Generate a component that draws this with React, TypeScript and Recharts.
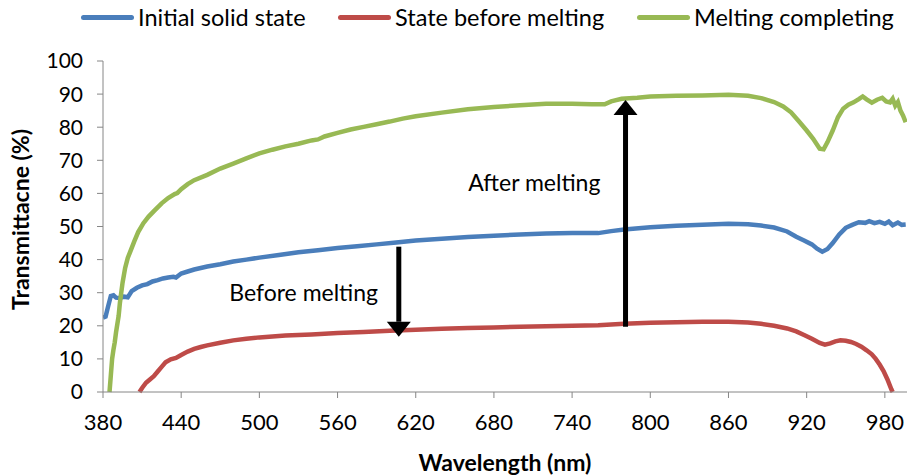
import { LineChart, Line, XAxis, YAxis, ReferenceLine, ReferenceDot, Label } from "recharts";

// [wavelength nm, transmittance %]
const initialSolid: [number, number][] = [
  [380, 22.5], [382, 22.8], [384, 26], [386, 29], [388, 29.2], [390, 28.5], [393, 28.4], [396, 28.8],
  [399, 28.6], [402, 30.5], [406, 31.5], [410, 32.2], [414, 32.6], [418, 33.4], [422, 33.8], [426, 34.3],
  [430, 34.6], [434, 34.8], [436, 34.6], [440, 35.8], [445, 36.4], [450, 37], [460, 37.9], [470, 38.6],
  [480, 39.4], [490, 40], [500, 40.6], [515, 41.4], [530, 42.2], [545, 42.8], [560, 43.5], [575, 44],
  [590, 44.6], [605, 45.2], [620, 45.8], [640, 46.3], [660, 46.8], [680, 47.2], [700, 47.6], [720, 47.9],
  [740, 48], [760, 48], [770, 48.6], [780, 49.1], [800, 49.8], [820, 50.2], [840, 50.5], [860, 50.8],
  [875, 50.7], [885, 50.3], [895, 49.7], [905, 48.5], [912, 46.9], [918, 45.8], [924, 44.6], [928, 43.3],
  [932, 42.4], [936, 43.2], [940, 45], [945, 47.6], [950, 49.6], [955, 50.5], [960, 51.3], [965, 51.1],
  [968, 51.6], [972, 51.0], [976, 51.4], [980, 50.8], [983, 51.5], [986, 50.4], [990, 51.2], [993, 50.5],
  [996, 50.6],
];

const beforeMelting: [number, number][] = [
  [408, 0], [410, 1.2], [413, 2.8], [416, 3.8], [419, 4.8], [422, 6.2], [425, 7.6], [428, 9], [432, 9.9],
  [436, 10.3], [440, 11.2], [445, 12.2], [450, 13], [455, 13.6], [460, 14.1], [470, 14.9], [480, 15.6],
  [490, 16.1], [500, 16.5], [520, 17.1], [540, 17.4], [560, 17.8], [580, 18.1], [600, 18.5], [620, 18.8],
  [640, 19.1], [660, 19.3], [680, 19.5], [700, 19.7], [720, 19.9], [740, 20], [760, 20.2], [780, 20.6],
  [800, 20.9], [820, 21.1], [840, 21.2], [860, 21.2], [875, 21], [885, 20.6], [895, 20], [905, 19.2],
  [912, 18.3], [918, 17.2], [924, 16.1], [930, 14.8], [934, 14.3], [938, 14.7], [942, 15.3], [946, 15.6],
  [950, 15.5], [954, 15.1], [958, 14.5], [962, 13.7], [966, 12.6], [970, 11.4], [973, 10], [976, 8.3],
  [979, 6.3], [982, 3.8], [985, 0.8], [986, 0],
];

const meltingCompleting: [number, number][] = [
  [385, 0], [386, 5], [387, 10], [388, 12.7], [389, 15], [390, 18], [392, 23], [393, 27], [395, 33],
  [397, 37.5], [399, 40.5], [401, 42.5], [404, 45.5], [407, 48.3], [411, 51], [415, 53], [420, 55], [425, 57],
  [430, 58.6], [435, 59.8], [437, 60.1], [440, 61.3], [445, 62.8], [450, 64], [460, 65.6], [470, 67.5],
  [480, 69], [490, 70.6], [500, 72.1], [510, 73.2], [520, 74.2], [530, 75], [540, 76], [545, 76.3],
  [550, 77.2], [560, 78.3], [570, 79.3], [580, 80.1], [590, 80.9], [600, 81.7], [610, 82.6], [620, 83.3],
  [640, 84.4], [660, 85.4], [680, 86.1], [700, 86.6], [720, 87.1], [740, 87.1], [755, 86.9], [765, 86.9],
  [770, 87.8], [778, 88.6], [790, 88.9], [800, 89.3], [820, 89.5], [840, 89.6], [860, 89.8], [875, 89.5],
  [885, 88.8], [895, 87.6], [902, 86.3], [908, 84.5], [914, 81.8], [920, 79], [925, 76.5], [930, 73.5],
  [933, 73.3], [936, 75.5], [940, 79], [944, 83], [948, 85.6], [952, 86.8], [956, 87.5], [960, 88.5],
  [963, 89.3], [966, 88.4], [970, 87.4], [974, 88.3], [978, 88.9], [981, 87.8], [984, 87.5], [986, 88.6],
  [988, 86.5], [990, 87.6], [992, 85], [994, 83.5], [996, 81.5],
];

const seriesNames = ["Initial solid state", "State before melting", "Melting completing"];
const seriesColors = ["#4a7ebb", "#be4b48", "#98b954"];
const xTicks = [380, 440, 500, 560, 620, 680, 740, 800, 860, 920, 980];
const yTicks = [0, 10, 20, 30, 40, 50, 60, 70, 80, 90, 100];

// arrows: [wavelength, from %, to %]
const arrowBefore = [607, 43.9, 16.7];
const arrowAfter = [781, 19.7, 88.2];
const notes: { text: string; x: number; y: number }[] = [
  { text: "Before melting", x: 534, y: 30.2 },
  { text: "After melting", x: 711, y: 63.5 },
];

const toRows = (pts: [number, number][]) => pts.map(([wl, t]) => ({ wl, t }));
const FONT = "Lato, 'Open Sans', sans-serif";

function Arrow(props: any) {
  const { x1, y1, x2, y2 } = props;
  const dir = y2 > y1 ? 1 : -1;
  const head = 15;
  const half = 12;
  return (
    <g>
      <line x1={x1} y1={y1} x2={x2} y2={y2 - dir * head} stroke="#000" strokeWidth={5} />
      <polygon
        points={`${x2},${y2} ${x2 - half},${y2 - dir * head} ${x2 + half},${y2 - dir * head}`}
        fill="#000"
      />
    </g>
  );
}

export default function App() {
  const all = [initialSolid, beforeMelting, meltingCompleting];
  const legendLeft = [81, 338, 637];
  return (
    <div style={{ position: "absolute", left: 0, top: 0, width: 908, height: 476, background: "#fff" }}>
      <LineChart width={908} height={476} margin={{ top: 61, right: 1, left: 0, bottom: 0 }}>
        <XAxis
          dataKey="wl"
          type="number"
          domain={[380, 997]}
          ticks={xTicks}
          allowDataOverflow
          height={84}
          stroke="#868686"
          tickSize={6}
          tickMargin={16}
          tick={{ fill: "#000", fontSize: 22, fontFamily: FONT }}
        >
          <Label
            content={(p: any) => {
              const vb = p.viewBox;
              return (
                <text
                  x={vb.x + vb.width / 2}
                  y={462}
                  textAnchor="middle"
                  dominantBaseline="central"
                  fontFamily={FONT}
                  fontWeight="bold"
                  fontSize={23}
                  fill="#000"
                >
                  Wavelength (nm)
                </text>
              );
            }}
          />
        </XAxis>
        <YAxis
          type="number"
          domain={[0, 100]}
          ticks={yTicks}
          width={103}
          stroke="#868686"
          tickSize={6}
          tickMargin={14}
          interval={0}
          tick={{ fill: "#000", fontSize: 21, fontFamily: FONT }}
        >
          <Label
            content={(p: any) => {
              const vb = p.viewBox;
              return (
                <text
                  transform={`translate(20, ${vb.y + vb.height / 2 - 7}) rotate(-90)`}
                  textAnchor="middle"
                  dominantBaseline="central"
                  fontFamily={FONT}
                  fontWeight="bold"
                  fontSize={23}
                  fill="#000"
                >
                  Transmittacne (%)
                </text>
              );
            }}
          />
        </YAxis>
        {all.map((pts, i) => (
          <Line
            key={seriesNames[i]}
            data={toRows(pts)}
            dataKey="t"
            name={seriesNames[i]}
            type="linear"
            stroke={seriesColors[i]}
            strokeWidth={4.5}
            dot={false}
            isAnimationActive={false}
          />
        ))}
        {[arrowBefore, arrowAfter].map((a, i) => (
          <ReferenceLine
            key={i}
            segment={[
              { x: a[0], y: a[1] },
              { x: a[0], y: a[2] },
            ]}
            ifOverflow="visible"
            shape={Arrow}
          />
        ))}
        {notes.map((n) => (
          <ReferenceDot
            key={n.text}
            x={n.x}
            y={n.y}
            r={0}
            ifOverflow="visible"
            shape={(p: any) => (
              <text
                x={p.cx}
                y={p.cy}
                textAnchor="middle"
                dominantBaseline="central"
                fontFamily={FONT}
                fontSize={23}
                fill="#000"
              >
                {n.text}
              </text>
            )}
          />
        ))}
      </LineChart>
      {seriesNames.map((name, i) => (
        <div
          key={name}
          style={{
            position: "absolute",
            left: legendLeft[i],
            top: 2,
            height: 30,
            display: "flex",
            alignItems: "center",
            fontFamily: FONT,
            fontSize: 23.5,
            color: "#000",
            whiteSpace: "nowrap",
          }}
        >
          <span
            style={{
              display: "inline-block",
              width: 53,
              height: 5,
              borderRadius: 3,
              background: seriesColors[i],
              marginRight: 4,
            }}
          />
          {name}
        </div>
      ))}
    </div>
  );
}
